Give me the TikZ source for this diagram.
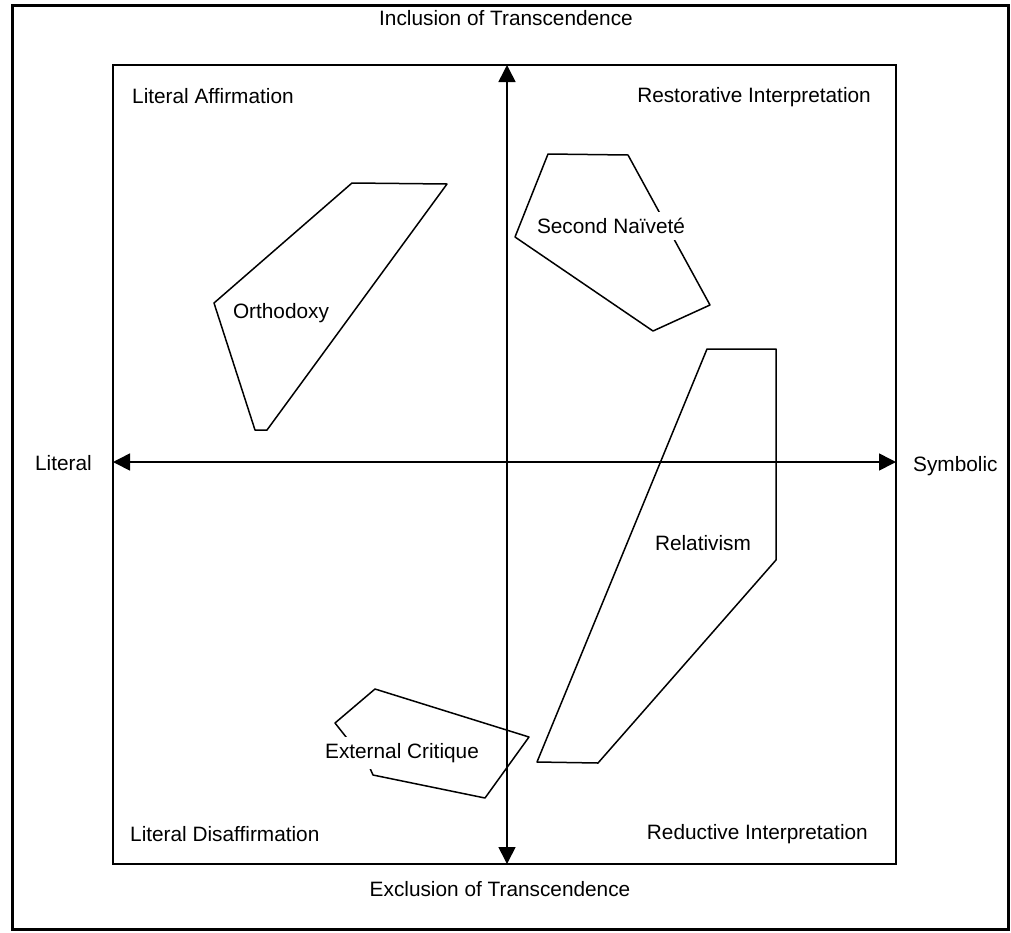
\documentclass[tikz,border=0pt]{standalone}
\usepackage{fontspec}
\setmainfont{Liberation Sans}
\usetikzlibrary{arrows.meta, positioning}

\begin{document}
\begin{tikzpicture}[
  x=1pt, y=-1pt,
  every node/.style={font=\fontsize{20.8}{25}\selectfont},
  axis/.style={{Triangle[length=17pt, width=17pt]}-{Triangle[length=17pt, width=17pt]}, line width=1.6pt},
  region/.style={line width=1.5pt, line join=round},
  regionlabel/.style={fill=white, inner sep=6pt},
  quadlabel/.style={inner sep=0pt}
]
\useasboundingbox (0,0) rectangle (1011,932);

% frames
\draw[line width=3pt] (12,5) rectangle (1008,929);
\draw[line width=1.3pt] (113,65) rectangle (896,864);

% axes
\coordinate (incl) at (507,65);
\coordinate (excl) at (507,864);
\coordinate (lit) at (113,462);
\coordinate (sym) at (896,462);
\draw[axis] (lit) -- (sym);
\draw[axis] (excl) -- (incl);

\node (inclusion) at (506,18) {Inclusion of Transcendence};
\node (exclusion) at (500,889) {Exclusion of Transcendence};
\node[anchor=east, inner sep=0pt] (literal) at (92,463) {Literal};
\node[anchor=west, inner sep=0pt] (symbolic) at (913,466) {Symbolic};

% quadrants
\node[quadlabel, anchor=west] (litaff) at (132,96) {Literal Affirmation};
\node[quadlabel, anchor=east] (restor) at (871,97) {Restorative Interpretation};
\node[quadlabel, anchor=west] (litdis) at (130,834) {Literal Disaffirmation};
\node[quadlabel, anchor=east] (reduct) at (868,834) {Reductive Interpretation};

% regions
\draw[region] (352,183) -- (447,184) -- (267,430) -- (255,430) -- (214,303) -- cycle;
\draw[region] (548,154) -- (628,155) -- (710,305) -- (653,331) -- (515,237) -- cycle;
\draw[region] (707,349) -- (776,349) -- (776,560) -- (598,763) -- (537,762) -- cycle;
\draw[region] (335,723) -- (375,689) -- (529,737) -- (485,798) -- (373,775) -- (369,766) -- cycle;

\node[regionlabel] (orthodoxy) at (281,313) {Orthodoxy};
\node[regionlabel] (naivete) at (611,226) {Second Naïveté};
\node[regionlabel, fill=none] (relativism) at (703,543) {Relativism};
\node[regionlabel] (critique) at (402,753) {External Critique};

\end{tikzpicture}
\end{document}
